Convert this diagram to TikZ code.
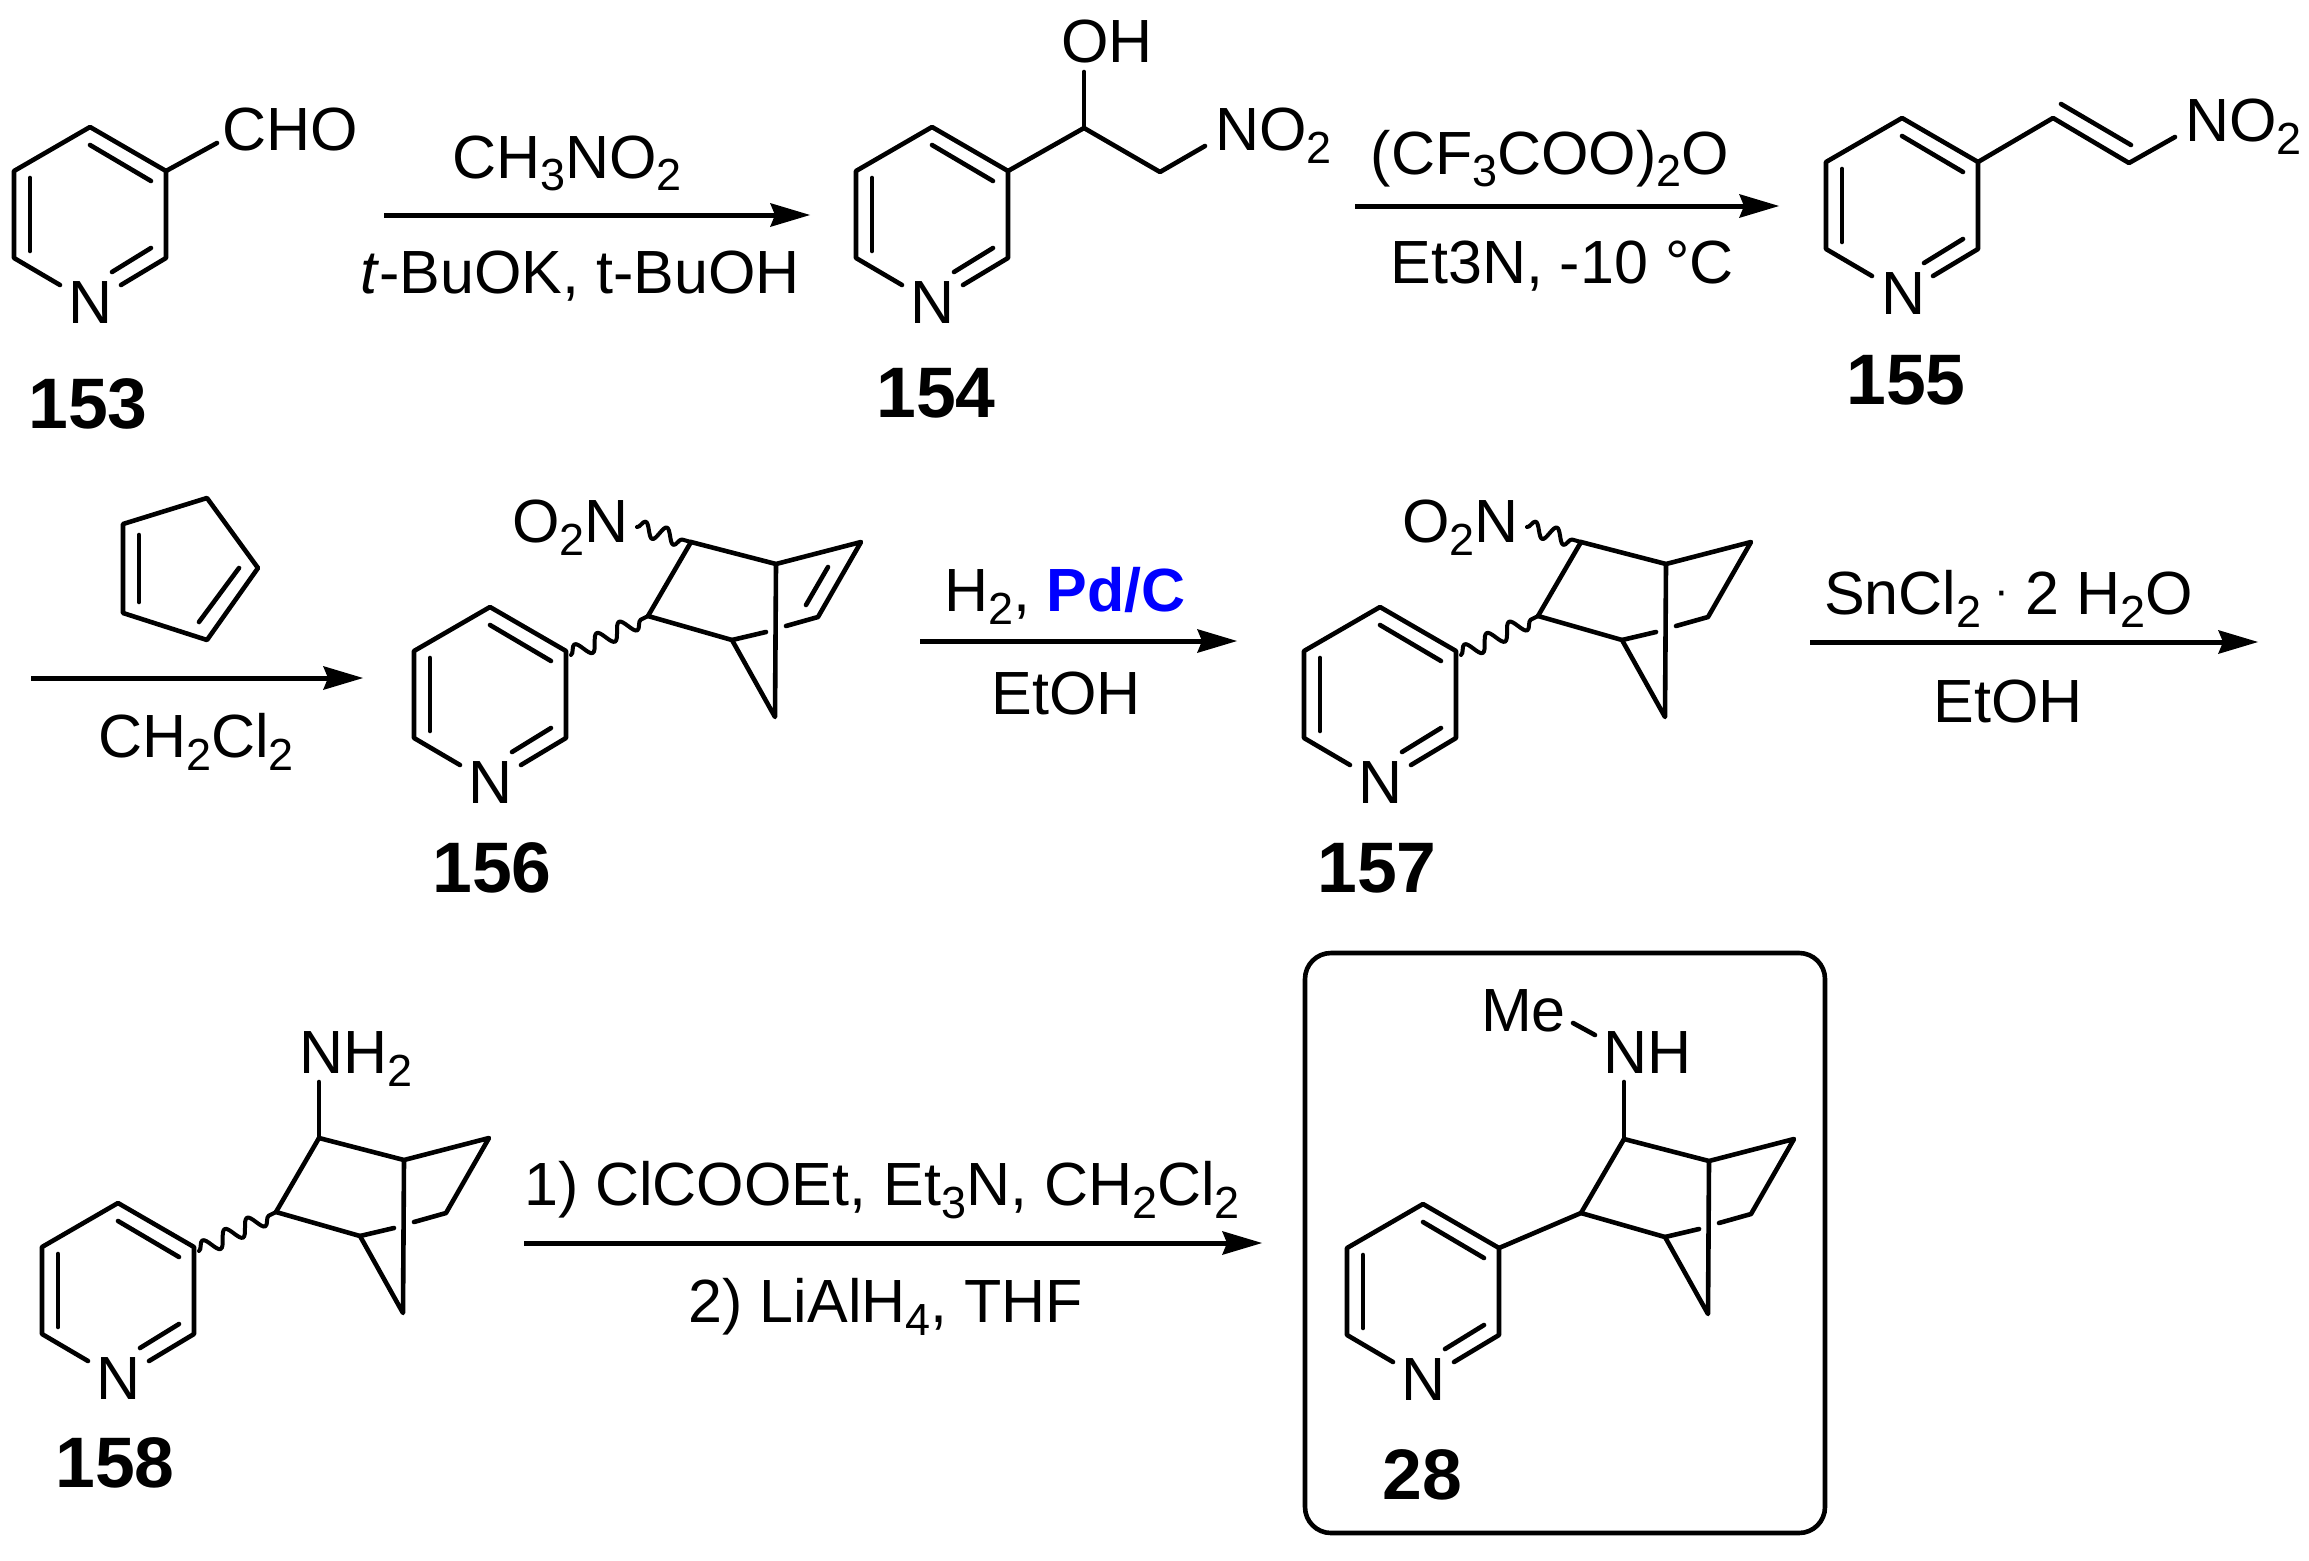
\documentclass[tikz,border=0pt]{standalone}
\usepackage{fontspec}
\setmainfont{Liberation Sans}
\usetikzlibrary{arrows.meta,decorations.pathmorphing}
\newcommand\subs[1]{\raisebox{-13pt}{\fontsize{45}{45}\selectfont #1}}
\tikzset{
  lab/.style={font=\fontsize{61}{61}\selectfont,inner sep=0pt,outer sep=0pt},
  cmpd/.style={font=\fontsize{71.5}{71.5}\selectfont\bfseries,inner sep=0pt,outer sep=0pt},
  bond/.style={draw=black,line width=4.6pt,line join=round,line cap=round},
  wavy/.style={draw=black,line width=4pt,line cap=round,line join=round,decorate,decoration={snake,segment length=25pt,amplitude=8pt}},
  rxn/.style={draw=black,line width=5pt,-{Stealth[length=40pt,width=24pt,inset=5pt,line width=0pt]}},
  framebox/.style={draw=black,line width=4.6pt,rounded corners=26pt}
}
\newcommand\pyridine[3]{%
  \begin{scope}[shift={(#2,#3)}]
    \coordinate (#1a) at (0,0);
    \coordinate (#1b) at (76,44);
    \coordinate (#1c) at (76,131);
    \coordinate (#1d) at (-76,131);
    \coordinate (#1e) at (-76,44);
    \coordinate (#1nl) at (-30,158);
    \coordinate (#1nr) at (31,158);
    \coordinate (#1i1) at (0,18);
    \coordinate (#1i2) at (61,54);
    \coordinate (#1i3) at (-60,51);
    \coordinate (#1i4) at (-60,124);
    \coordinate (#1i5) at (22,145);
    \coordinate (#1i6) at (61,121);
    \node[lab,anchor=base] (#1N) at (1,196) {N};
    \draw[bond] (#1nl) -- (#1d) -- (#1e) -- (#1a) -- (#1b) -- (#1c) -- (#1nr);
    \draw[bond] (#1i1) -- (#1i2);
    \draw[bond] (#1i3) -- (#1i4);
    \draw[bond] (#1i5) -- (#1i6);
  \end{scope}}
\newcommand\norbornane[3]{%
  \begin{scope}[shift={(#2,#3)}]
    \coordinate (#1k1) at (158,9);
    \coordinate (#1k2) at (201,-65);
    \coordinate (#1k3) at (286,-43);
    \coordinate (#1br) at (242,33);
    \coordinate (#1ap) at (285,110);
    \coordinate (#1tp) at (371,-65);
    \coordinate (#1bt) at (328,10);
    \coordinate (#1g1) at (296,19);
    \coordinate (#1g2) at (276,25);
    \coordinate (#1ws) at (81,48);
    \draw[bond] (#1k2) -- (#1k3) -- (#1tp) -- (#1bt) -- (#1g1);
    \draw[bond] (#1k1) -- (#1k2);
    \draw[bond] (#1k3) -- (#1ap) -- (#1br) -- (#1k1);
    \draw[bond] (#1br) -- (#1g2);
  \end{scope}}
\newcommand\nitrowave[3]{%
  \begin{scope}[shift={(#2,#3)}]
    \node[lab,anchor=base west] (#1no) at (22,-65) {O\subs{2}N};
    \coordinate (#1ww) at (147,-80);
    \draw[wavy,decoration={segment length=22pt,amplitude=7.5pt}] (#1ww) -- (#1k2);
  \end{scope}}
\begin{document}
\begin{tikzpicture}[x=1pt,y=-1pt]
\useasboundingbox (0,0) rectangle (2309,1560);
\fill[white] (0,0) rectangle (2309,1560);

% 153
\pyridine{p}{90}{127}
\coordinate (pch) at (217,143);
\draw[bond] (pb) -- (pch);
\node[lab,anchor=base west] (cho) at (222,150) {CHO};
\node[cmpd,anchor=base] (n153) at (88,428) {153};

% arrow 1
\coordinate (a1s) at (384,215);
\coordinate (a1e) at (810,215);
\draw[rxn] (a1s) -- (a1e);
\node[lab,anchor=base] (t1a) at (567,178) {CH\subs{3}NO\subs{2}};
\node[lab,anchor=base] (t1b) at (580,293) {\textit{t}-BuOK, t-BuOH};

% 154
\pyridine{q}{932}{127}
\coordinate (qc) at (1084,128);
\coordinate (qd) at (1160,172);
\coordinate (qn) at (1205,146);
\coordinate (qo) at (1084,72);
\draw[bond] (qb) -- (qc) -- (qd) -- (qn);
\draw[bond] (qc) -- (qo);
\node[lab,anchor=base west] (oh) at (1061,63) {OH};
\node[lab,anchor=base west] (no2a) at (1215,150) {NO\subs{2}};
\node[cmpd,anchor=base] (n154) at (936,417) {154};

% arrow 2
\coordinate (a2s) at (1355,206);
\coordinate (a2e) at (1779,206);
\draw[rxn] (a2s) -- (a2e);
\node[lab,anchor=base] (t2a) at (1550,174) {(CF\subs{3}COO)\subs{2}O};
\node[lab,anchor=base] (t2b) at (1562,283) {Et3N, -10 °C};

% 155
\pyridine{r}{1902}{118}
\coordinate (rc) at (2053,118);
\coordinate (rd) at (2129,163);
\coordinate (rn) at (2175,137);
\coordinate (ri) at (2061,104);
\coordinate (rj) at (2131,145);
\draw[bond] (rb) -- (rc) -- (rd) -- (rn);
\draw[bond] (ri) -- (rj);
\node[lab,anchor=base west] (no2b) at (2185,142) {NO\subs{2}};
\node[cmpd,anchor=base] (n155) at (1906,404) {155};

% arrow 3 with cyclopentadiene
\coordinate (c1) at (207,498);
\coordinate (c2) at (258,568);
\coordinate (c3) at (207,640);
\coordinate (c4) at (123,613);
\coordinate (c5) at (123,524);
\coordinate (c6) at (139,535);
\coordinate (c7) at (139,602);
\coordinate (c8) at (239,568);
\coordinate (c9) at (199,622);
\draw[bond] (c1) -- (c2) -- (c3) -- (c4) -- (c5) -- cycle;
\draw[bond] (c6) -- (c7);
\draw[bond] (c8) -- (c9);
\coordinate (a3s) at (31,678);
\coordinate (a3e) at (363,678);
\draw[rxn] (a3s) -- (a3e);
\node[lab,anchor=base] (t3) at (196,757) {CH\subs{2}Cl\subs{2}};

% 156
\pyridine{s}{490}{607}
\norbornane{s}{490}{607}
\coordinate (sd1) at (828,567);
\coordinate (sd2) at (806,605);
\draw[bond] (sd1) -- (sd2);
\draw[wavy] (sws) -- (sk1);
\nitrowave{s}{490}{607}
\node[cmpd,anchor=base] (n156) at (492,892) {156};

% arrow 4
\coordinate (a4s) at (920,641);
\coordinate (a4e) at (1237,641);
\draw[rxn] (a4s) -- (a4e);
\node[lab,anchor=base west] (t4a) at (944,611) {H\subs{2}, \textcolor{blue}{\bfseries Pd/C}};
\node[lab,anchor=base] (t4b) at (1066,714) {EtOH};

% 157
\pyridine{u}{1380}{607}
\norbornane{u}{1380}{607}
\draw[wavy] (uws) -- (uk1);
\nitrowave{u}{1380}{607}
\node[cmpd,anchor=base] (n157) at (1377,892) {157};

% arrow 5
\coordinate (a5s) at (1810,642);
\coordinate (a5e) at (2258,642);
\draw[rxn] (a5s) -- (a5e);
\node[lab,anchor=base west] (t5a) at (1824,614) {SnCl\subs{2}\hspace{13pt}\raisebox{9pt}{\fontsize{44}{44}\selectfont ·}\hspace{17pt}2 H\subs{2}O};
\node[lab,anchor=base] (t5b) at (2008,722) {EtOH};

% 158
\pyridine{v}{118}{1203}
\norbornane{v}{118}{1203}
\draw[wavy] (vws) -- (vk1);
\coordinate (vn) at (319,1082);
\draw[bond] (vk2) -- (vn);
\node[lab,anchor=base west] (nh2) at (299,1073) {NH\subs{2}};
\node[cmpd,anchor=base] (n158) at (115,1487) {158};

% arrow 6
\coordinate (a6s) at (524,1243);
\coordinate (a6e) at (1262,1243);
\draw[rxn] (a6s) -- (a6e);
\node[lab,anchor=base] (t6a) at (882,1205) {1) ClCOOEt, Et\subs{3}N, CH\subs{2}Cl\subs{2}};
\node[lab,anchor=base] (t6b) at (886,1322) {2) LiAlH\subs{4}, THF};

% 28
\draw[framebox] (1305,953) rectangle (1825,1533);
\pyridine{w}{1423}{1204}
\norbornane{w}{1423}{1204}
\draw[bond] (wb) -- (wk1);
\coordinate (wn) at (1624,1082);
\draw[bond] (wk2) -- (wn);
\coordinate (wm1) at (1573,1023);
\coordinate (wm2) at (1595,1035);
\draw[bond] (wm1) -- (wm2);
\node[lab,anchor=base west] (nh) at (1603,1073) {NH};
\node[lab,anchor=base west] (me) at (1481,1031) {Me};
\node[cmpd,anchor=base] (n28) at (1422,1499) {28};
\end{tikzpicture}
\end{document}
